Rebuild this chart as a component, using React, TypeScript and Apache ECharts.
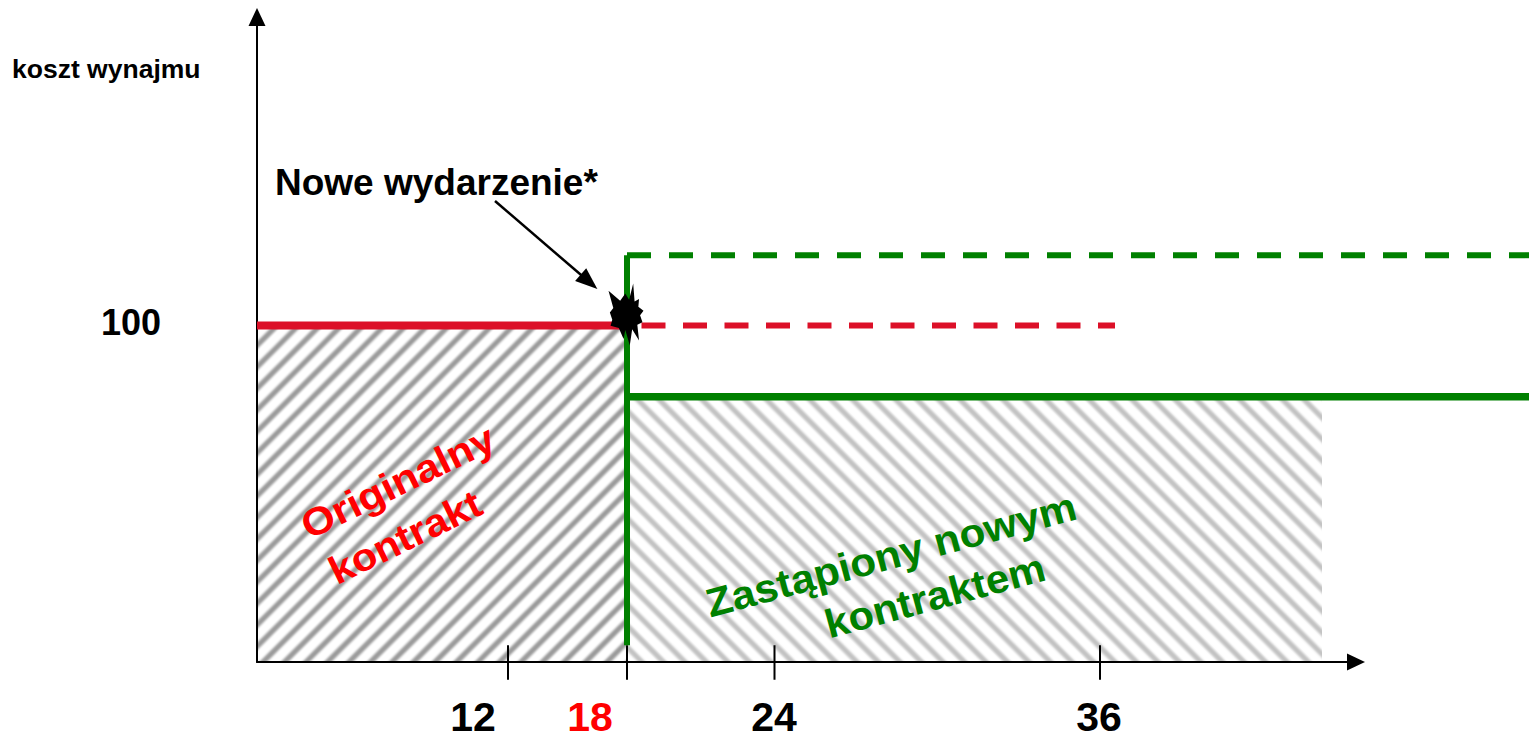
import React, { useEffect, useRef } from "react";
import * as echarts from "echarts";

// Months are not evenly spaced in the reference, so the x axis is a schematic scale.
const TICK_LABELS = ["12", "18", "24", "36"];
const TICK_POSITIONS = [251, 370, 517.5, 843];
const LABEL_POSITIONS = [216, 333, 517, 842];
const Y_LABELS = ["100"];
const Y_LABEL_POSITIONS = [100.8];
const EVENT_X = 370;
const ORIGINAL_LEVEL = 100;
const NEW_LEVEL = 78.8;
const RAISED_LEVEL = 120.9;
const HATCH_NEW_END = 1065;
const LINE_END = 1272;
const AXIS_END = 1099;
const RED_DASH_END = 858;
const GREEN_VERTICAL_BOTTOM = 5;
const TICK_UP = 5;
const TICK_DOWN = -5.3;
const ARROW_FROM = [238, 137];
const ARROW_TO = [332, 113];

const STAR_PATH =
  "path://M188 38L192 92L205 85L203 108L218 120L208 134L215 155L200 162L205 210L185 176L178 225L165 178L160 205L146 172L122 165L127 147L120 125L130 112L116 60L150 90L165 68L176 87Z";

const RED = "#dc1028";
const GREEN = "#008000";

function hatchTile(color: string, direction: 1 | -1, phase: number) {
  const size = 86;
  const c = document.createElement("canvas");
  c.width = size;
  c.height = size;
  const ctx = c.getContext("2d")!;
  ctx.fillStyle = "#ffffff";
  ctx.fillRect(0, 0, size, size);
  ctx.filter = "blur(0.9px)";
  ctx.strokeStyle = color;
  ctx.lineWidth = 5.2;
  const period = 21.5;
  for (let i = -8; i < 14; i++) {
    const o = i * period + phase;
    ctx.beginPath();
    if (direction === 1) {
      ctx.moveTo(o, size + 5);
      ctx.lineTo(o + size + 10, -5);
    } else {
      ctx.moveTo(o, -5);
      ctx.lineTo(o + size + 10, size + 5);
    }
    ctx.stroke();
  }
  return c;
}

const FONT = { fontFamily: "Liberation Sans", fontWeight: "bold" };

export default function App() {
  const ref = useRef<HTMLDivElement>(null);
  useEffect(() => {
    const chart = echarts.init(ref.current!, null, { renderer: "svg" });
    const pattern = (color: string, dir: 1 | -1, phase: number) => ({
      image: hatchTile(color, dir, phase),
      repeat: "repeat",
      imageWidth: 86,
      imageHeight: 86,
    });
    const base = { type: "line", showSymbol: false, symbol: "none", clip: false, silent: true };
    const ticks: any[] = [];
    TICK_POSITIONS.forEach((x) => {
      ticks.push([x, TICK_UP], [x, TICK_DOWN], [x, "-"]);
    });
    chart.setOption({
      animation: false,
      backgroundColor: "#ffffff",
      title: {
        text: "koszt wynajmu",
        left: 12,
        top: 55,
        padding: 0,
        textStyle: { ...FONT, fontSize: 26.5, color: "#000" },
      },
      grid: [
        { left: 257, top: 17, width: LINE_END, height: 645 },
        { left: 257, top: 17, width: AXIS_END, height: 645 },
      ],
      xAxis: [
        {
          type: "value",
          gridIndex: 0,
          min: 0,
          max: LINE_END,
          splitLine: { show: false },
          axisLine: { show: false },
          axisTick: { show: false },
          axisLabel: {
            customValues: LABEL_POSITIONS,
            margin: 36,
            ...FONT,
            fontSize: 41,
            lineHeight: 37,
            hideOverlap: false,
            formatter: (v: number) => TICK_LABELS[LABEL_POSITIONS.indexOf(v)],
            color: (v: any) => (Number(v) === LABEL_POSITIONS[1] ? "#ff0000" : "#000000"),
          },
        },
        {
          type: "value",
          gridIndex: 1,
          min: 0,
          max: AXIS_END,
          z: 5,
          splitLine: { show: false },
          axisLine: {
            show: true,
            onZero: false,
            symbol: ["none", "triangle"],
            symbolSize: [17, 18],
            lineStyle: { color: "#000", width: 2 },
          },
          axisTick: { show: false },
          axisLabel: { show: false },
        },
      ],
      yAxis: [
        {
          type: "value",
          gridIndex: 0,
          min: 0,
          max: 191.7,
          z: 5,
          splitLine: { show: false },
          axisLine: {
            show: true,
            onZero: false,
            symbol: ["none", "triangle"],
            symbolSize: [17, 18],
            lineStyle: { color: "#000", width: 2 },
          },
          axisTick: { show: false },
          axisLabel: {
            customValues: Y_LABEL_POSITIONS,
            margin: 96,
            ...FONT,
            fontSize: 36,
            color: "#000",
            formatter: (v: number) => Y_LABELS[Y_LABEL_POSITIONS.indexOf(v)],
          },
        },
        { type: "value", gridIndex: 1, min: 0, max: 191.7, show: false },
      ],
      series: [
        {
          ...base,
          name: "hatch original",
          z: 1,
          lineStyle: { width: 0 },
          areaStyle: { color: pattern("#9a9a9a", 1, 17), opacity: 1 },
          data: [[0, ORIGINAL_LEVEL], [EVENT_X, ORIGINAL_LEVEL]],
        },
        {
          ...base,
          name: "hatch new",
          z: 1,
          lineStyle: { width: 0 },
          areaStyle: { color: pattern("#c2c2c2", -1, 18), opacity: 1 },
          data: [[EVENT_X, NEW_LEVEL], [HATCH_NEW_END, NEW_LEVEL]],
        },
        {
          ...base,
          name: "ticks",
          z: 6,
          connectNulls: false,
          lineStyle: { color: "#000", width: 2 },
          data: ticks,
        },
        {
          ...base,
          name: "green vertical",
          z: 7,
          lineStyle: { color: GREEN, width: 6, cap: "butt" },
          data: [[EVENT_X, GREEN_VERTICAL_BOTTOM], [EVENT_X, RAISED_LEVEL]],
        },
        {
          ...base,
          name: "new contract",
          z: 7,
          lineStyle: { color: GREEN, width: 7.5 },
          data: [[EVENT_X, NEW_LEVEL], [LINE_END, NEW_LEVEL]],
        },
        {
          ...base,
          name: "raised",
          z: 7,
          lineStyle: { color: GREEN, width: 6, type: [24, 18] },
          data: [[EVENT_X, RAISED_LEVEL], [LINE_END, RAISED_LEVEL]],
        },
        {
          ...base,
          name: "original contract",
          z: 8,
          lineStyle: { color: RED, width: 8 },
          data: [[0, ORIGINAL_LEVEL], [EVENT_X, ORIGINAL_LEVEL]],
        },
        {
          ...base,
          name: "original dashed",
          z: 8,
          lineStyle: { color: RED, width: 6, type: [24, 17.5], dashOffset: 26.5 },
          data: [[EVENT_X, ORIGINAL_LEVEL], [RED_DASH_END, ORIGINAL_LEVEL]],
        },
        {
          type: "scatter",
          name: "event",
          z: 9,
          clip: false,
          silent: true,
          symbol: STAR_PATH,
          symbolSize: [35, 62],
          symbolOffset: [-1, -11],
          itemStyle: { color: "#000", opacity: 1 },
          data: [[EVENT_X, ORIGINAL_LEVEL]],
          markLine: {
            silent: true,
            symbol: ["none", "triangle"],
            symbolSize: [17, 22],
            label: { show: false },
            lineStyle: { color: "#000", width: 2.5, type: "solid" },
            data: [[{ coord: ARROW_FROM }, { coord: ARROW_TO }]],
          },
        },
      ],
      graphic: [
        {
          type: "text",
          left: 275,
          top: 164,
          z: 20,
          style: { text: "Nowe wydarzenie*", ...FONT, fontSize: 37, fill: "#000" },
        },
        {
          type: "text",
          x: 398,
          y: 482,
          scaleX: 1.09,
          rotation: (26 * Math.PI) / 180,
          z: 20,
          style: { text: "Originalny", ...FONT, fontSize: 39, align: "center", verticalAlign: "middle", fill: "#ff0000" },
        },
        {
          type: "text",
          x: 405,
          y: 537,
          scaleX: 1.07,
          rotation: (26 * Math.PI) / 180,
          z: 20,
          style: { text: "kontrakt", ...FONT, fontSize: 39, align: "center", verticalAlign: "middle", fill: "#ff0000" },
        },
        {
          type: "text",
          x: 891,
          y: 555,
          scaleX: 1.06,
          rotation: (15 * Math.PI) / 180,
          z: 20,
          style: { text: "Zastąpiony nowym", ...FONT, fontSize: 40, align: "center", verticalAlign: "middle", fill: GREEN },
        },
        {
          type: "text",
          x: 935,
          y: 596,
          scaleX: 1.05,
          rotation: (15 * Math.PI) / 180,
          z: 20,
          style: { text: "kontraktem", ...FONT, fontSize: 40, align: "center", verticalAlign: "middle", fill: GREEN },
        },
      ],
    });
    return () => chart.dispose();
  }, []);
  return <div ref={ref} style={{ position: "absolute", left: 0, top: 0, width: 1529, height: 737 }} />;
}
